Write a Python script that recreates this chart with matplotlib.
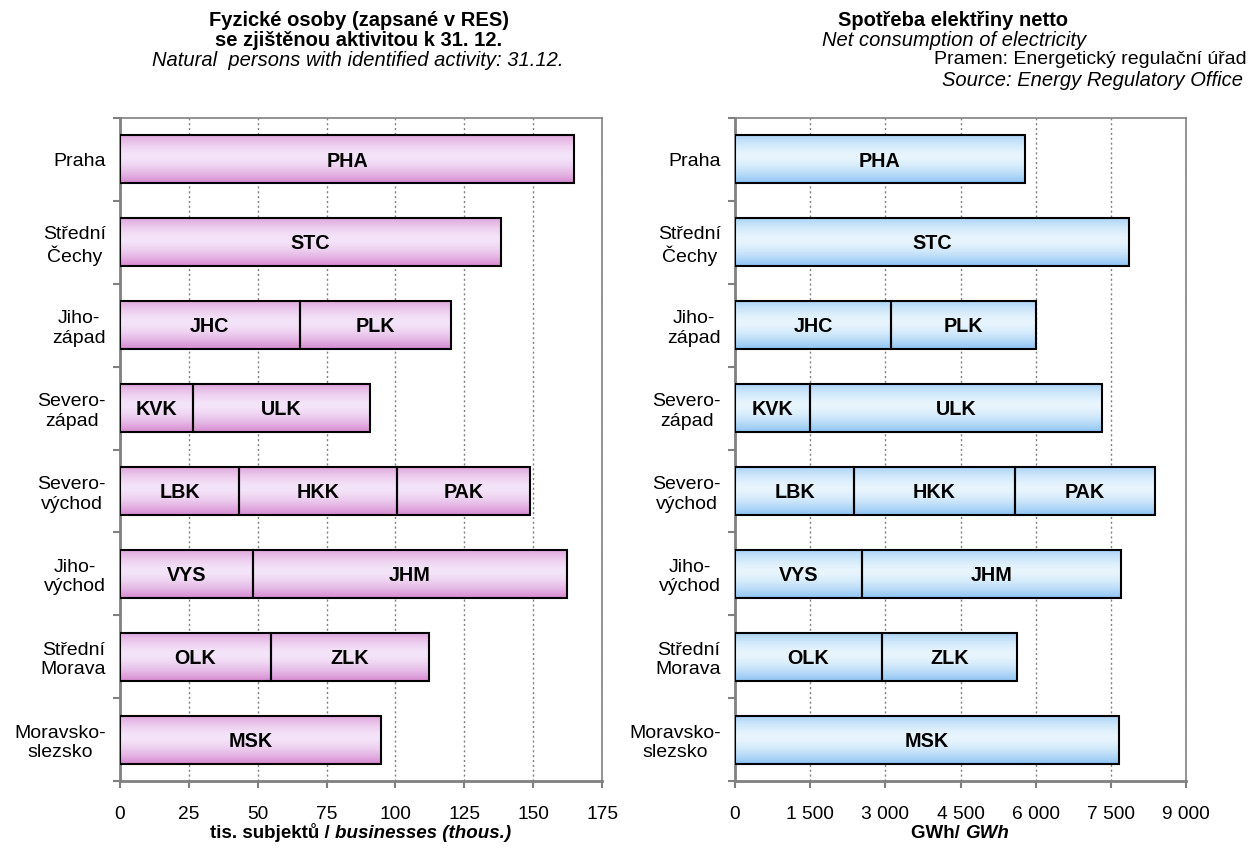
import numpy as np
import matplotlib
matplotlib.use("Agg")
import matplotlib.pyplot as plt
from matplotlib.colors import to_rgb
from matplotlib.ticker import FixedLocator, FuncFormatter

plt.rcParams['font.family'] = ['Liberation Sans', 'DejaVu Sans']

# ---------------- data ----------------
regions = ["Praha", "Střední\nČechy", "Jiho-\nzápad", "Severo-\nzápad",
           "Severo-\nvýchod", "Jiho-\nvýchod", "Střední\nMorava", "Moravsko-\nslezsko"]
codes = [["PHA"], ["STC"], ["JHC", "PLK"], ["KVK", "ULK"],
         ["LBK", "HKK", "PAK"], ["VYS", "JHM"], ["OLK", "ZLK"], ["MSK"]]
# natural persons with identified activity (thous.)
persons = [[165.0], [138.3], [65.2, 55.1], [26.4, 64.4],
           [43.3, 57.3, 48.4], [48.3, 113.9], [54.8, 57.3], [94.8]]
# net consumption of electricity (GWh)
electricity = [[5780], [7860], [3120, 2880], [1500, 5825],
               [2380, 3200, 2800], [2540, 5160], [2930, 2690], [7660]]

persons_ticks = [0, 25, 50, 75, 100, 125, 150, 175]
elec_ticks = [0, 1500, 3000, 4500, 6000, 7500, 9000]

# ---------------- figure ----------------
W, H = 1250, 851
fig = plt.figure(figsize=(W / 100, H / 100), dpi=100)


def fx(px):
    return px / W


def fy(py):
    return 1 - py / H


ax_top, ax_bot = 118, 781
axL = fig.add_axes([fx(120), fy(ax_bot), fx(602 - 120), (ax_bot - ax_top) / H])
axR = fig.add_axes([fx(735), fy(ax_bot), fx(1186 - 735), (ax_bot - ax_top) / H])

BAR_H = 0.58
FS_CAT = 14
FS_TICK = 13.8
FS_BAR = 14.2
FS_TITLE = 14.5


def gradient_img(dark, light, n=64):
    t = np.linspace(0, 1, n)
    f = np.clip(np.abs(t - 0.45) / 0.55, 0, 1) ** 1.6
    d = np.array(to_rgb(dark))
    l = np.array(to_rgb(light))
    cols = l[None, :] + (d - l)[None, :] * f[:, None]
    return cols[:, None, :]


def draw_panel(ax, values, ticks, dark, light, fmt):
    grad = gradient_img(dark, light)
    for i, (segs, labs) in enumerate(zip(values, codes)):
        left = 0
        for v, lab in zip(segs, labs):
            bars = ax.barh(i, v, left=left, height=BAR_H, facecolor='none',
                           edgecolor='black', linewidth=1.5, zorder=4)
            patch = bars.patches[0]
            im = ax.imshow(grad, extent=[left, left + v, i + BAR_H / 2, i - BAR_H / 2],
                           aspect='auto', interpolation='bilinear', zorder=3)
            im.set_clip_path(patch)
            ax.text(left + v / 2, i + 0.02, lab, ha='center', va='center',
                    fontsize=FS_BAR, fontweight='bold', zorder=5)
            left += v
    ax.set_xlim(ticks[0], ticks[-1])
    ax.set_ylim(len(values) - 0.5, -0.5)
    ax.set_aspect('auto')
    ax.xaxis.set_major_locator(FixedLocator(ticks))
    ax.xaxis.set_major_formatter(FuncFormatter(fmt))
    ax.set_yticks(range(len(values)))
    ax.set_yticklabels(regions, fontsize=FS_CAT, multialignment='center',
                       linespacing=1.2)
    ax.yaxis.set_minor_locator(FixedLocator(np.arange(-0.5, len(values), 1.0)))
    ax.tick_params(axis='y', which='major', length=0, pad=10)
    ax.tick_params(axis='y', which='minor', length=5, width=1.5, color='#808080',
                   direction='out')
    ax.tick_params(axis='x', which='major', length=5, width=1.5, color='#808080',
                   direction='out', pad=13, labelsize=FS_TICK)
    ax.grid(axis='x', linestyle=(0, (1.5, 2)), color='#808080', linewidth=1, zorder=1)
    ax.set_axisbelow(True)
    for s in ['left', 'bottom']:
        ax.spines[s].set_color('#808080')
        ax.spines[s].set_linewidth(2)
    for s in ['top', 'right']:
        ax.spines[s].set_color('#808080')
        ax.spines[s].set_linewidth(1.2)


draw_panel(axL, persons, persons_ticks, '#d68ad0', '#f4e4f9',
           lambda v, p: f"{int(v)}")
draw_panel(axR, electricity, elec_ticks, '#8ec4f4', '#e8f5fd',
           lambda v, p: f"{int(v):,}".replace(",", " "))

# ---------------- titles ----------------
fig.text(fx(359), fy(20), "Fyzické osoby (zapsané v RES)", ha='center', va='center',
         fontsize=FS_TITLE, fontweight='bold')
fig.text(fx(359), fy(40), "se zjištěnou aktivitou k 31. 12.", ha='center', va='center',
         fontsize=FS_TITLE, fontweight='bold')
fig.text(fx(358), fy(61), "Natural  persons with identified activity: 31.12.", ha='center',
         va='center', fontsize=14.5, style='italic')

fig.text(fx(953), fy(20), "Spotřeba elektřiny netto", ha='center', va='center',
         fontsize=FS_TITLE, fontweight='bold')
fig.text(fx(954), fy(40), "Net consumption of electricity", ha='center', va='center',
         fontsize=14.5, style='italic')
fig.text(fx(1247), fy(60), "Pramen: Energetický regulační úřad", ha='right', va='center',
         fontsize=14)
fig.text(fx(1243), fy(81), "Source: Energy Regulatory Office", ha='right', va='center',
         fontsize=14.5, style='italic')

# ---------------- axis labels (mixed styles) ----------------
renderer = fig.canvas.get_renderer()


def mixed_label(cx, cy, part1, part2):
    t1 = fig.text(0, fy(cy), part1, ha='left', va='center', fontsize=13.5,
                  fontweight='bold')
    t2 = fig.text(0, fy(cy), part2, ha='left', va='center', fontsize=13.5,
                  fontweight='bold', style='italic')
    w1 = t1.get_window_extent(renderer).width
    w2 = t2.get_window_extent(renderer).width
    x0 = cx - (w1 + w2) / 2
    t1.set_x(fx(x0))
    t2.set_x(fx(x0 + w1))


mixed_label(361, 833, "tis. subjektů / ", "businesses (thous.)")
mixed_label(960, 833, "GWh/ ", "GWh")

fig.savefig("out.png", dpi=100)
